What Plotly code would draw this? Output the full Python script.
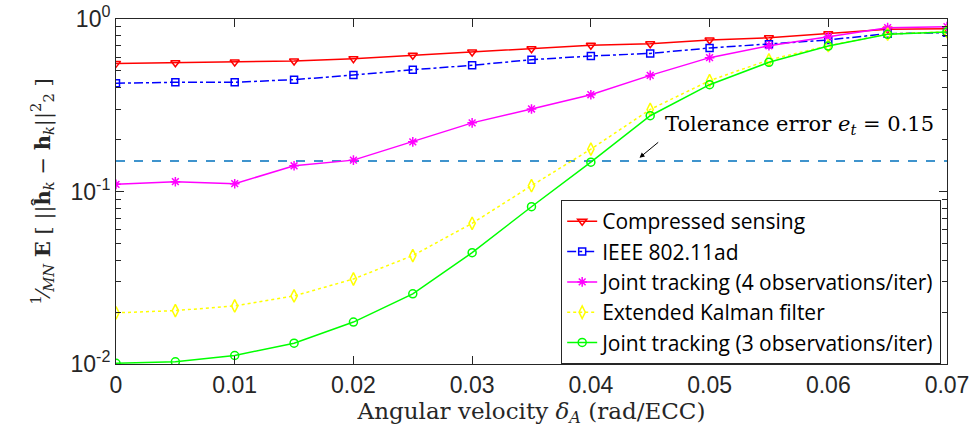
import math
import plotly.graph_objects as go

x = [0, 0.005, 0.01, 0.015, 0.02, 0.025, 0.03, 0.035, 0.04, 0.045, 0.05, 0.055, 0.06, 0.065, 0.07]
cs = [0.553, 0.558, 0.563, 0.571, 0.589, 0.616, 0.644, 0.673, 0.704, 0.719, 0.756, 0.779, 0.822, 0.871, 0.879]
ieee = [0.424, 0.430, 0.430, 0.445, 0.473, 0.508, 0.539, 0.581, 0.610, 0.632, 0.679, 0.713, 0.756, 0.822, 0.833]
jt4 = [0.110, 0.114, 0.111, 0.141, 0.152, 0.194, 0.250, 0.301, 0.364, 0.471, 0.597, 0.700, 0.790, 0.891, 0.903]
ekf = [0.0198, 0.0204, 0.0217, 0.0248, 0.0311, 0.0425, 0.0654, 0.108, 0.176, 0.299, 0.439, 0.579, 0.700, 0.818, 0.844]
jt3 = [0.0101, 0.0103, 0.0112, 0.0132, 0.0175, 0.0255, 0.0442, 0.0816, 0.148, 0.275, 0.416, 0.561, 0.697, 0.815, 0.841]
tolerance = 0.15
names = ["Compressed sensing", "IEEE 802.11ad", "Joint tracking (4 observations/iter)",
         "Extended Kalman filter", "Joint tracking (3 observations/iter)"]
ytickvals = [0.01, 0.1, 1]
yticktext = ["10<sup>-2</sup>", "10<sup>-1</sup>", "10<sup>0</sup>"]
xtickvals = [0, 0.01, 0.02, 0.03, 0.04, 0.05, 0.06, 0.07]
xticktext = ["0", "0.01", "0.02", "0.03", "0.04", "0.05", "0.06", "0.07"]

series = [cs, ieee, jt4, ekf, jt3]
colors = ["#FF0000", "#0000FF", "#FF00FF", "#FFFF00", "#00FF00"]
symbols = ["triangle-down-open", "square-open", "asterisk-open", "diamond-tall-open", "circle-open"]
dashes = ["solid", "dashdot", "solid", "dot", "solid"]
msizes = [8, 7, 8, 9, 8]

SERIF = "DejaVu Serif, serif"
SANS = "Liberation Sans, Arial, sans-serif"

fig = go.Figure()
fig.add_trace(go.Scatter(x=[x[0], x[-1]], y=[tolerance, tolerance], mode="lines",
                         line=dict(color="#0072BD", dash="dash", width=1.5),
                         showlegend=False, hoverinfo="skip"))
for s, n, c, sy, d, ms in zip(series, names, colors, symbols, dashes, msizes):
    fig.add_trace(go.Scatter(x=x, y=s, name=n, mode="lines+markers",
                             line=dict(color=c, dash=d, width=1.5),
                             marker=dict(symbol=sy, size=ms, color=c, line=dict(color=c, width=1.5))))

# arrow and label (log axis annotations use log10 coordinates)
fig.add_annotation(x=0.0441, y=math.log10(0.157), ax=0.0458, ay=math.log10(0.196),
                   xref="x", yref="y", axref="x", ayref="y",
                   showarrow=True, arrowhead=2, arrowsize=1, arrowwidth=1, arrowcolor="black", text="")
fig.add_annotation(x=0.0461, y=math.log10(0.243), xref="x", yref="y", xanchor="left", yanchor="middle",
                   showarrow=False,
                   text="Tolerance error <i>e<sub>t</sub></i> = 0.15",
                   font=dict(family=SERIF, size=21, color="black"))

axis_common = dict(showline=True, linecolor="#262626", linewidth=1, mirror="ticks",
                   ticks="inside", tickcolor="#262626", showgrid=False, zeroline=False,
                   automargin=False,
                   tickfont=dict(family=SANS, size=23, color="#262626"))

fig.update_xaxes(range=[0, 0.07], tickvals=xtickvals, ticktext=xticktext, ticklen=8,
                 title=dict(text="Angular velocity <i>δ<sub>A</sub></i> (rad/ECC)",
                            font=dict(family=SERIF, size=23, color="#262626"),
                            standoff=1),
                 **axis_common)
fig.update_yaxes(type="log", range=[-2, 0], tickvals=ytickvals, ticktext=yticktext, ticklen=8,
                 minor=dict(ticks="inside", ticklen=5, tickcolor="#262626", dtick="D1", showgrid=False),
                 title=dict(text="<sup>1</sup>⁄<sub><i>MN</i></sub> <b>E</b> [ ||<b>ĥ</b><sub><i>k</i></sub> − <b>h</b><sub><i>k</i></sub>||<sup>2</sup><sub>2</sub> ]",
                            font=dict(family=SERIF, size=21, color="#262626"),
                            standoff=14),
                 **axis_common)

fig.update_layout(width=974, height=436, margin=dict(l=116, r=27, t=19, b=72),
                  plot_bgcolor="white", paper_bgcolor="white",
                  legend=dict(x=0.993, y=0.475, xanchor="right", yanchor="top",
                              bgcolor="white", bordercolor="#262626", borderwidth=1,
                              font=dict(family="Open Sans, Liberation Sans, Arial", size=21, color="black"),
                              itemwidth=30, tracegroupgap=0))
fig.write_html("out.html", config={"displayModeBar": False},
               post_script="document.body.style.margin='0';document.body.style.overflow='hidden';")
